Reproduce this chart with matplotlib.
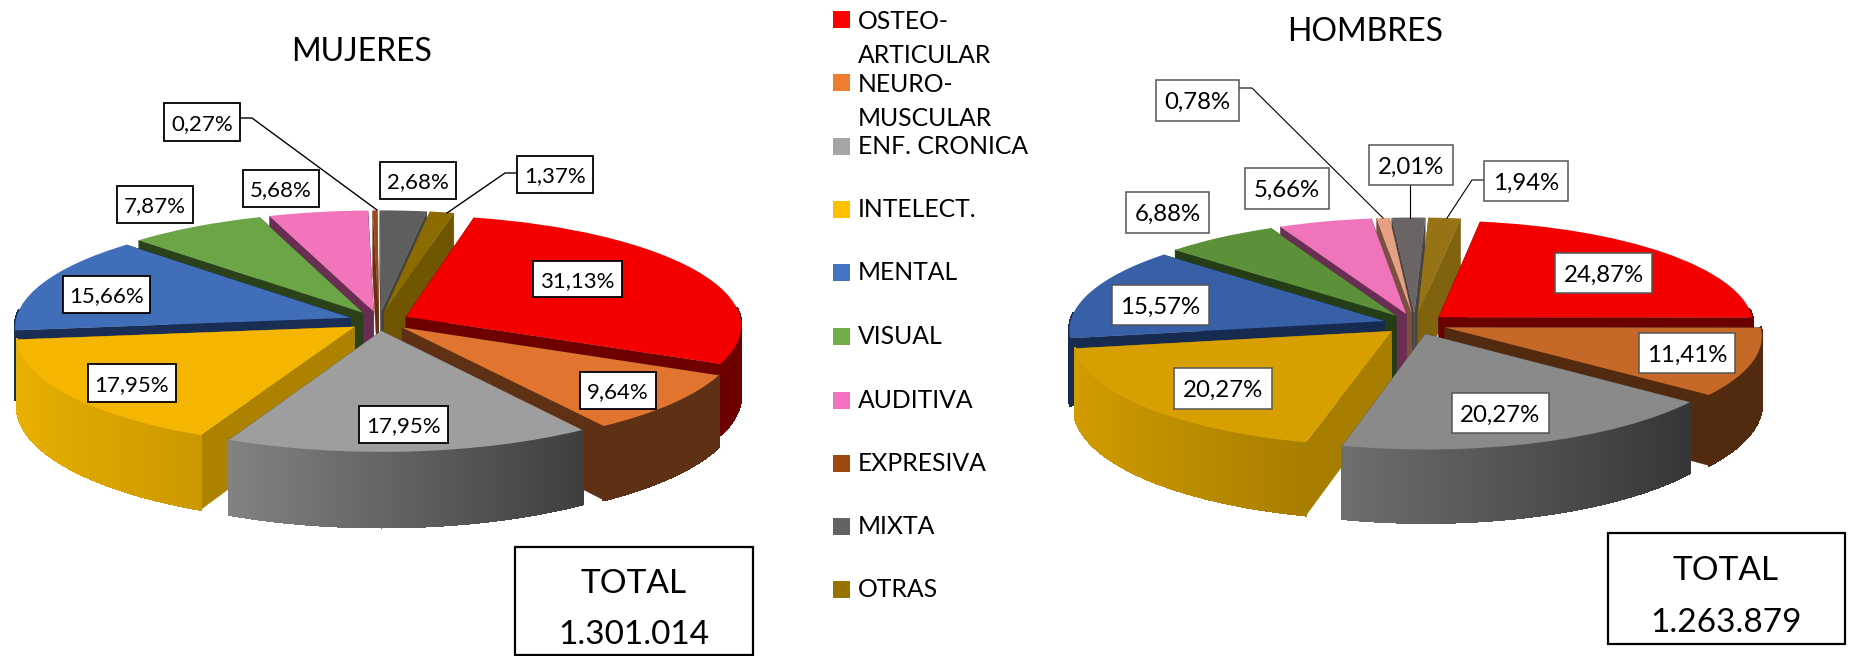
import numpy as np
import matplotlib
matplotlib.use("Agg")
import matplotlib.pyplot as plt
from matplotlib.collections import PolyCollection
from matplotlib.colors import to_rgb
from matplotlib.patches import Rectangle
from matplotlib.transforms import Transform

plt.rcParams['font.family'] = ['Lato', 'DejaVu Sans']

# ---------- data ----------
legend_labels = ['OSTEO-\nARTICULAR', 'NEURO-\nMUSCULAR', 'ENF. CRONICA', 'INTELECT.', 'MENTAL',
                 'VISUAL', 'AUDITIVA', 'EXPRESIVA', 'MIXTA', 'OTRAS']
legend_colors = ['#FF0000', '#ED7D31', '#A5A5A5', '#FFC000', '#4472C4',
                 '#70AD47', '#F472BF', '#9E480E', '#636363', '#997300']

mujeres_values = [31.13, 9.64, 17.95, 17.95, 15.66, 7.87, 5.68, 0.27, 2.68, 1.37]
hombres_values = [24.87, 11.41, 20.27, 20.27, 15.57, 6.88, 5.66, 0.78, 2.01, 1.94]
mujeres_total = '1.301.014'
hombres_total = '1.263.879'

# ---------- styles ----------
muj_top = ['#F50000', '#E17530', '#9E9E9E', '#F4B600', '#416EB8', '#6CA546', '#F274BB', '#A04616', '#5E5E5E', '#8C6C00']
hom_top = ['#F50000', '#C66828', '#8A8A8A', '#D7A000', '#3760A6', '#5C913A', '#F074BA', '#E6A084', '#6A6464', '#967314']
muj_radial = ['#6E0000', '#5E3014', '#5A5A5A', '#AC8200', '#192D55', '#2A4119', '#6A2E55', '#6A2E10', '#444444', '#705600']
hom_radial = ['#6A0000', '#522A10', '#505050', '#A87E00', '#172A50', '#253D16', '#6A2E55', '#7A5040', '#4A4545', '#80620F']
muj_wall_l = ['#6E0000', '#5E3014', '#828282', '#E8B000', '#192D55', '#2A4119', '#6A2E55', '#6A2E10', '#444444', '#705600']
muj_wall_r = ['#6E0000', '#5E3014', '#3E3E3E', '#CC9800', '#192D55', '#2A4119', '#6A2E55', '#6A2E10', '#444444', '#705600']
hom_wall_l = ['#6A0000', '#522A10', '#6E6E6E', '#D29C00', '#172A50', '#253D16', '#6A2E55', '#7A5040', '#4A4545', '#80620F']
hom_wall_r = ['#6A0000', '#522A10', '#353535', '#A87E00', '#172A50', '#253D16', '#6A2E55', '#7A5040', '#4A4545', '#80620F']

muj_geom = dict(cx=379, cy=321, rx=335, ry=110, depth=69, k=0.077, explode=0.09, start=77)
hom_geom = dict(cx=1415, cy=324, rx=315, ry=105, depth=67, k=0.077, explode=0.10, start=81.5)

# label boxes: x0, x1, y0, y1 in figure pixels
muj_boxes = [(533, 622, 261, 297), (580, 656, 372, 409), (359, 448, 406, 443), (88, 176, 364, 402),
             (63, 150, 276, 313), (117, 193, 186, 223), (243, 319, 170, 207), (164, 240, 103, 141),
             (380, 456, 162, 199), (517, 593, 156, 193)]
hom_boxes = [(1555, 1652, 253, 293), (1639, 1735, 333, 373), (1452, 1549, 393, 433), (1174, 1272, 368, 409),
             (1112, 1209, 285, 325), (1126, 1209, 192, 233), (1245, 1329, 168, 209), (1156, 1239, 80, 121),
             (1369, 1453, 145, 185), (1484, 1568, 161, 201)]
muj_leaders = [([240, 252, 377], [118, 118, 210]), ([517, 505, 447], [173, 173, 213])]
hom_leaders = [([1239, 1252, 1383], [88, 88, 218]), ([1410, 1410], [185, 218]), ([1484, 1472, 1447], [180, 180, 218])]


class Perspective(Transform):
    input_dims = output_dims = 2
    is_separable = False
    has_inverse = False

    def __init__(self, g):
        super().__init__()
        self.g = g

    def transform_non_affine(self, values):
        v = np.asarray(values, float)
        s = 1 / (1 + self.g['k'] * v[:, 1])
        return np.column_stack((self.g['cx'] + self.g['rx'] * v[:, 0] * s,
                                self.g['cy'] - self.g['ry'] * v[:, 1] * s))


def project(g, x, y, z=0.0):
    s = 1 / (1 + g['k'] * y)
    return (g['cx'] + g['rx'] * x * s, g['cy'] - g['ry'] * y * s + g['depth'] * z * s)


def draw_pie(ax, values, g, top, radial, wall_l, wall_r, fontsize, boxes, edge, lw):
    vals = np.asarray(values, float)
    n = len(vals)
    wedges, _ = ax.pie(vals, explode=[g['explode']] * n, colors=top, startangle=g['start'],
                       counterclock=False, frame=True, wedgeprops=dict(linewidth=0))
    persp = Perspective(g)
    sweep = vals / vals.sum() * 360
    a0 = g['start'] - np.concatenate(([0], np.cumsum(sweep)[:-1]))
    a1 = a0 - sweep
    mids = np.radians((a0 + a1) / 2)
    order = np.argsort(-np.sin(mids))
    for rank, i in enumerate(order):
        z = 2 + rank * 0.1
        ox, oy = g['explode'] * np.cos(mids[i]), g['explode'] * np.sin(mids[i])
        # radial cut faces
        for a in (a0[i], a1[i]):
            t = np.radians(a)
            x, y = ox + np.cos(t), oy + np.sin(t)
            poly = [project(g, ox, oy), project(g, x, y), project(g, x, y, 1), project(g, ox, oy, 1)]
            ax.add_patch(plt.Polygon(poly, closed=True, fc=radial[i], ec=radial[i], lw=0.3, zorder=z))
        # outer wall, shaded across its visible width
        th = np.radians(np.linspace(a0[i], a1[i], max(int(sweep[i] * 3), 2) + 1))
        front = [(th[j], th[j + 1]) for j in range(len(th) - 1) if np.sin(th[j]) + np.sin(th[j + 1]) < 0.15]
        if front:
            quads, cols = [], []
            xs = [np.cos(t0) for t0, _ in front] + [np.cos(t1) for _, t1 in front]
            lo, hi = min(xs), max(xs)
            cl, cr = np.array(to_rgb(wall_l[i])), np.array(to_rgb(wall_r[i]))
            for t0, t1 in front:
                x0, y0 = ox + np.cos(t0), oy + np.sin(t0)
                x1, y1 = ox + np.cos(t1), oy + np.sin(t1)
                quads.append([project(g, x0, y0), project(g, x1, y1), project(g, x1, y1, 1), project(g, x0, y0, 1)])
                f = ((np.cos(t0) + np.cos(t1)) / 2 - lo) / max(hi - lo, 1e-6)
                cols.append(cl + (cr - cl) * f)
            ax.add_collection(PolyCollection(quads, facecolors=cols, edgecolors=cols, linewidths=1.2,
                                             antialiaseds=False, zorder=z + 0.01), autolim=False)
        wedges[i].set_transform(persp + ax.transData)
        wedges[i].set_zorder(z + 0.02)
    # labels derived from the values
    for v, (x0, x1, y0, y1) in zip(vals, boxes):
        ax.add_patch(Rectangle((x0, y0), x1 - x0, y1 - y0, fc='white', ec=edge, lw=lw, zorder=8))
        ax.text((x0 + x1) / 2, (y0 + y1) / 2, f"{v:.2f}".replace('.', ',') + '%', ha='center', va='center_baseline',
                fontsize=fontsize, color='black', zorder=9)


fig = plt.figure(figsize=(18.54, 6.56), dpi=100, facecolor='white')
ax = fig.add_axes([0, 0, 1, 1])

draw_pie(ax, mujeres_values, muj_geom, muj_top, muj_radial, muj_wall_l, muj_wall_r, 16, muj_boxes, 'black', 1.3)
draw_pie(ax, hombres_values, hom_geom, hom_top, hom_radial, hom_wall_l, hom_wall_r, 17.3, hom_boxes, '#555555', 1.1)

ax.set_aspect('auto')
ax.set_xlim(0, 1854)
ax.set_ylim(656, 0)
ax.axis('off')

for xs, ys in muj_leaders:
    ax.plot(xs, ys, color='black', lw=1.0, zorder=7)
for xs, ys in hom_leaders:
    ax.plot(xs, ys, color='black', lw=0.8, zorder=7)

ax.text(362, 52, 'MUJERES', ha='center', va='center', fontsize=23, color='black')
ax.text(1365, 32, 'HOMBRES', ha='center', va='center', fontsize=23, color='black')

# legend
leg_y = [19.5, 82.5, 146, 209, 272.5, 336, 400, 463, 526, 589]
for lab, col, y in zip(legend_labels, legend_colors, leg_y):
    ax.add_patch(Rectangle((833, y - 8.5), 17, 17, fc=col, ec='none', zorder=5))
    dy = -9.5 if '\n' in lab else -11
    ax.text(858, y + dy, lab, ha='left', va='top', fontsize=17.8, linespacing=1.6, color='black', zorder=5)

# totals
for (x0, x1, y0, y1), total, cx, ty, vy in [((515, 753, 547, 655), mujeres_total, 634, 584, 635),
                                            ((1608, 1845, 533, 644), hombres_total, 1726, 571, 623)]:
    ax.add_patch(Rectangle((x0, y0), x1 - x0, y1 - y0, fc='white', ec='black', lw=1.6, zorder=5))
    ax.text(cx, ty, 'TOTAL', ha='center', va='center', fontsize=24, zorder=6)
    ax.text(cx, vy, total, ha='center', va='center', fontsize=24, zorder=6)

fig.savefig('out.png', dpi=100)
